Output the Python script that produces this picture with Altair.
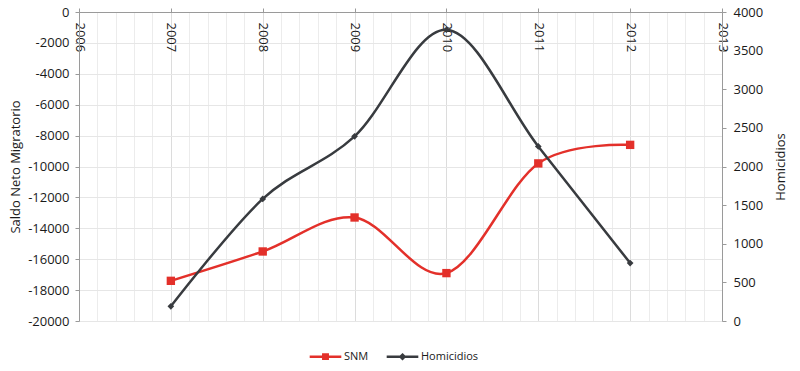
import altair as alt
import pandas as pd

years = [2007, 2008, 2009, 2010, 2011, 2012]
snm = [-17400, -15500, -13300, -16900, -9800, -8600]
homicidios = [190, 1580, 2390, 3770, 2260, 750]
series_names = ["SNM", "Homicidios"]
series_colors = ["#e3302a", "#383b3f"]
year_domain = [2006, 2013]
left_ticks = list(range(-20000, 1, 2000))
right_ticks = list(range(0, 4001, 500))
grid_steps = [round(2006 + i * 0.2, 1) for i in range(36)]

FONT = "Open Sans"
TXT = "#1a1a1a"
AX = "#9a9a9a"
GRID = "#e6e6e6"

df = pd.DataFrame({"year": years, "SNM": snm, "Homicidios": homicidios})
long_df = df.melt("year", var_name="series", value_name="value")

is_year = "abs(datum.value - round(datum.value)) < 0.01"

x_enc = alt.X(
    "year:Q",
    scale=alt.Scale(domain=year_domain, nice=False, zero=False),
    axis=alt.Axis(
        orient="top", values=grid_steps, title=None,
        labelAngle=90, labelAlign="left", labelBaseline="middle",
        labelPadding=-14, tickSize=4, labelOverlap=False, labelFlush=False,
        labelExpr=f"{is_year} ? '' + round(datum.value) : ''",
        tickOpacity={"condition": {"test": is_year, "value": 1}, "value": 0},
        tickColor=AX, domainColor=AX, grid=True,
        gridColor={"condition": {"test": is_year, "value": "#dcdcdc"}, "value": "#ececec"},
        labelFont=FONT, labelFontSize=13, labelColor=TXT,
    ),
)

y_left = alt.Y(
    "SNM:Q",
    scale=alt.Scale(domain=[-20000, 0], nice=False),
    axis=alt.Axis(
        values=left_ticks, title="Saldo Neto Migratorio", labelExpr="datum.value + ''",
        grid=True, gridColor=GRID, domainColor=AX, tickColor=AX, tickSize=4,
        labelPadding=6, titlePadding=5, labelFont=FONT, labelFontSize=13,
        labelColor=TXT, titleFont=FONT, titleFontSize=13, titleFontWeight="normal",
        titleColor=TXT,
    ),
)

y_right = alt.Y(
    "Homicidios:Q",
    scale=alt.Scale(domain=[0, 4000], nice=False),
    axis=alt.Axis(
        orient="right", values=right_ticks, title="Homicidios", grid=False,
        labelExpr="datum.value + ''",
        domainColor=AX, tickColor=AX, tickSize=4, labelPadding=7, titlePadding=12,
        titleAngle=270, titleBaseline="top", labelFont=FONT, labelFontSize=13, labelColor=TXT,
        titleFont=FONT, titleFontSize=13, titleFontWeight="normal", titleColor=TXT,
    ),
)

base = alt.Chart(df)

snm_line = base.mark_line(color=series_colors[0], strokeWidth=2.5, interpolate="cardinal").encode(x=x_enc, y=y_left)
snm_pts = base.mark_square(color=series_colors[0], size=70, opacity=1).encode(x=x_enc, y=y_left)
hom_line = base.mark_line(color=series_colors[1], strokeWidth=2.5, interpolate="cardinal").encode(x=x_enc, y=y_right)
hom_pts = base.mark_point(shape="diamond", filled=True, color=series_colors[1], size=45, opacity=1).encode(x=x_enc, y=y_right)

path_snm = "M-1,0H1M-0.14,-0.14H0.14V0.14H-0.14Z"
path_hom = "M-1,0H1M0,-0.13L0.13,0L0,0.13L-0.13,0Z"

leg = alt.Legend(
    title=None, orient="none", direction="horizontal", legendX=229, legendY=327,
    symbolSize=1000, symbolStrokeWidth=2.5, symbolOpacity=1,
    labelFont=FONT, labelFontSize=11, labelColor=TXT, labelOffset=1,
    columnPadding=12,
)

legend_layer = alt.Chart(long_df).mark_point(filled=True, opacity=0).encode(
    x=x_enc,
    fill=alt.Fill("series:N", scale=alt.Scale(domain=series_names, range=series_colors), legend=leg),
    stroke=alt.Stroke("series:N", scale=alt.Scale(domain=series_names, range=series_colors), legend=leg),
    shape=alt.Shape("series:N", scale=alt.Scale(domain=series_names, range=[path_snm, path_hom]), legend=leg),
)

chart = alt.layer(
    alt.layer(snm_line, snm_pts),
    alt.layer(hom_line, hom_pts),
    legend_layer,
).resolve_scale(y="independent").properties(
    width=643, height=309,
    autosize=alt.AutoSizeParams(type="none"),
    padding={"left": 71, "top": 4, "right": 68, "bottom": 42},
).configure_view(stroke=None)

chart.save("out.html", embed_options={"renderer": "svg", "actions": False})
